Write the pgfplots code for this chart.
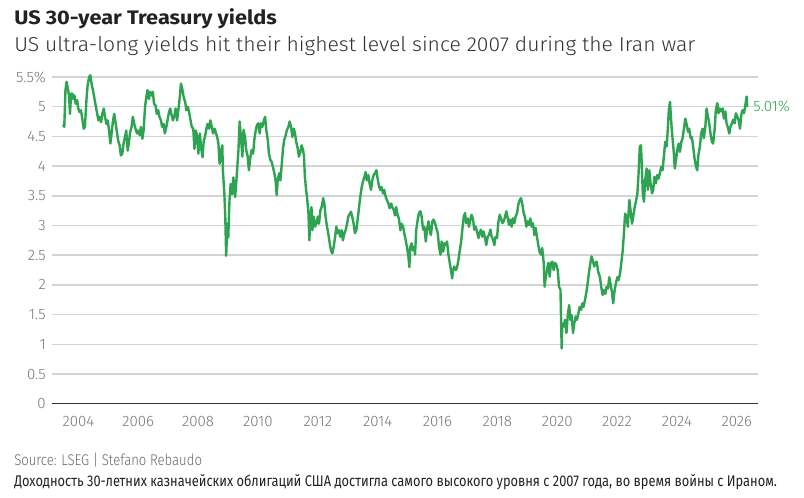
\documentclass[border=0pt]{standalone}
\usepackage{pgfplots}
\pgfplotsset{compat=1.18}
\usepackage{pgfplotstable}
\usepackage{graphicx}
\usepackage{fontspec}
\setmainfont{Fira Sans}
\IfFontExistsTF{Fira Sans Light}
  {\newfontfamily\lightfont{Fira Sans Light}}
  {\IfFontExistsTF{FiraSans-Light.otf}
    {\newfontfamily\lightfont{FiraSans-Light.otf}}
    {\newfontfamily\lightfont{Fira Sans}}}
\definecolor{linegreen}{RGB}{46,163,82}
\definecolor{gridgray}{RGB}{212,212,212}
\definecolor{tickgray}{RGB}{120,120,120}
\definecolor{titlec}{RGB}{34,34,34}
\definecolor{subc}{RGB}{50,50,50}
\definecolor{srcc}{RGB}{105,105,105}

\pgfplotstableread{
t y
2003.50 4.69
2003.53 4.66
2003.57 5.28
2003.61 5.42
2003.64 5.33
2003.69 5.19
2003.72 4.88
2003.76 5.22
2003.80 5.22
2003.83 5.13
2003.87 5.19
2003.91 5.05
2003.96 5.11
2004.00 4.97
2004.04 4.91
2004.09 4.94
2004.13 4.80
2004.18 4.63
2004.22 4.66
2004.27 5.11
2004.31 5.36
2004.36 5.50
2004.40 5.53
2004.45 5.36
2004.49 5.28
2004.53 5.16
2004.58 5.02
2004.62 4.91
2004.67 4.77
2004.71 4.83
2004.76 4.74
2004.80 4.88
2004.85 4.97
2004.89 4.83
2004.94 4.71
2004.98 4.77
2005.02 4.63
2005.07 4.38
2005.11 4.55
2005.16 4.77
2005.20 4.88
2005.25 4.71
2005.29 4.57
2005.33 4.43
2005.38 4.35
2005.42 4.18
2005.47 4.21
2005.51 4.38
2005.56 4.49
2005.60 4.60
2005.65 4.26
2005.69 4.40
2005.73 4.57
2005.78 4.66
2005.82 4.83
2005.87 4.71
2005.91 4.63
2005.96 4.55
2006.00 4.60
2006.05 4.52
2006.09 4.66
2006.14 4.46
2006.18 4.60
2006.23 5.00
2006.27 5.16
2006.31 5.28
2006.36 5.13
2006.40 5.25
2006.45 5.19
2006.49 5.25
2006.53 5.05
2006.58 5.02
2006.62 4.88
2006.67 4.94
2006.71 4.83
2006.76 4.77
2006.80 4.66
2006.85 4.71
2006.89 4.55
2006.94 4.66
2006.98 4.77
2007.03 4.91
2007.07 4.97
2007.12 4.85
2007.16 4.77
2007.21 4.85
2007.25 4.97
2007.30 4.77
2007.34 4.94
2007.39 5.16
2007.43 5.39
2007.48 5.28
2007.52 5.16
2007.57 5.08
2007.61 4.94
2007.66 5.00
2007.70 4.91
2007.75 4.77
2007.79 4.66
2007.84 4.63
2007.88 4.29
2007.93 4.60
2007.97 4.49
2008.01 4.21
2008.06 4.55
2008.10 4.32
2008.15 4.15
2008.19 4.43
2008.23 4.49
2008.28 4.63
2008.32 4.71
2008.37 4.63
2008.41 4.77
2008.46 4.66
2008.50 4.55
2008.55 4.63
2008.59 4.57
2008.64 4.49
2008.68 4.38
2008.72 4.04
2008.77 4.26
2008.81 4.35
2008.83 3.93
2008.88 3.53
2008.91 3.14
2008.94 2.49
2008.98 3.03
2009.01 2.80
2009.05 3.42
2009.09 3.70
2009.14 3.53
2009.18 3.81
2009.24 3.48
2009.29 3.82
2009.35 4.27
2009.39 4.75
2009.44 4.44
2009.48 4.16
2009.52 4.61
2009.57 4.49
2009.61 4.27
2009.66 4.16
2009.70 3.93
2009.75 4.16
2009.79 4.27
2009.84 4.21
2009.88 4.44
2009.93 4.61
2009.97 4.69
2010.01 4.72
2010.06 4.55
2010.10 4.72
2010.15 4.66
2010.19 4.75
2010.24 4.83
2010.28 4.61
2010.33 4.44
2010.37 4.21
2010.42 4.10
2010.46 4.07
2010.50 3.99
2010.55 3.88
2010.59 3.76
2010.63 3.51
2010.66 3.76
2010.71 3.88
2010.75 3.76
2010.79 3.99
2010.84 4.30
2010.88 4.44
2010.93 4.52
2010.97 4.61
2011.02 4.66
2011.06 4.75
2011.11 4.66
2011.15 4.49
2011.20 4.63
2011.24 4.55
2011.28 4.41
2011.33 4.30
2011.37 4.16
2011.42 4.24
2011.46 4.35
2011.51 4.27
2011.54 4.16
2011.57 3.82
2011.61 3.60
2011.64 3.48
2011.69 3.20
2011.72 2.75
2011.75 3.15
2011.79 3.31
2011.82 2.92
2011.86 3.15
2011.91 2.98
2011.95 3.03
2012.00 3.15
2012.04 3.03
2012.09 3.26
2012.13 3.31
2012.18 3.46
2012.22 3.37
2012.26 3.15
2012.31 2.98
2012.35 2.87
2012.40 2.70
2012.44 2.58
2012.49 2.53
2012.53 2.64
2012.58 2.81
2012.62 2.98
2012.66 2.87
2012.71 2.92
2012.75 2.81
2012.80 2.92
2012.84 2.75
2012.89 2.87
2012.93 2.92
2012.98 3.03
2013.02 3.15
2013.07 3.20
2013.11 3.23
2013.15 3.15
2013.20 3.03
2013.24 2.87
2013.29 2.92
2013.33 3.09
2013.38 3.31
2013.42 3.48
2013.47 3.65
2013.51 3.74
2013.56 3.82
2013.60 3.90
2013.64 3.76
2013.69 3.85
2013.73 3.71
2013.78 3.60
2013.82 3.76
2013.87 3.85
2013.91 3.88
2013.96 3.93
2014.00 3.79
2014.05 3.65
2014.09 3.60
2014.13 3.65
2014.18 3.54
2014.22 3.60
2014.27 3.48
2014.31 3.43
2014.36 3.37
2014.40 3.29
2014.45 3.37
2014.49 3.31
2014.54 3.26
2014.58 3.17
2014.62 3.31
2014.67 3.17
2014.71 3.12
2014.76 2.92
2014.80 3.03
2014.85 2.98
2014.89 2.87
2014.94 2.75
2014.98 2.64
2015.03 2.47
2015.06 2.30
2015.09 2.64
2015.14 2.70
2015.18 2.58
2015.23 2.64
2015.25 2.51
2015.29 2.93
2015.34 3.10
2015.38 3.21
2015.43 3.24
2015.47 3.15
2015.52 2.93
2015.56 2.98
2015.61 2.73
2015.65 2.93
2015.70 3.07
2015.74 2.93
2015.78 2.84
2015.83 3.07
2015.87 3.10
2015.92 3.04
2015.96 2.96
2016.01 2.87
2016.05 2.65
2016.10 2.51
2016.14 2.73
2016.19 2.56
2016.23 2.70
2016.27 2.67
2016.32 2.73
2016.36 2.53
2016.41 2.37
2016.45 2.25
2016.49 2.11
2016.52 2.25
2016.56 2.31
2016.61 2.25
2016.65 2.28
2016.70 2.42
2016.74 2.56
2016.79 2.73
2016.83 2.93
2016.88 3.15
2016.92 3.21
2016.96 3.04
2017.01 3.12
2017.05 2.98
2017.10 3.10
2017.14 3.18
2017.19 3.10
2017.23 2.93
2017.28 2.98
2017.32 2.90
2017.37 2.79
2017.41 2.87
2017.45 2.93
2017.50 2.81
2017.54 2.90
2017.59 2.79
2017.63 2.67
2017.68 2.81
2017.72 2.84
2017.77 2.93
2017.81 2.81
2017.86 2.76
2017.90 2.67
2017.94 2.81
2017.99 2.79
2018.03 3.04
2018.08 3.18
2018.12 3.12
2018.17 3.04
2018.21 3.07
2018.26 3.15
2018.30 3.24
2018.35 3.12
2018.39 3.01
2018.43 3.10
2018.48 2.98
2018.52 3.12
2018.57 3.04
2018.61 3.15
2018.66 3.21
2018.70 3.35
2018.75 3.43
2018.79 3.46
2018.84 3.35
2018.88 3.21
2018.92 3.15
2018.97 2.98
2019.01 3.07
2019.06 3.01
2019.10 3.12
2019.15 2.98
2019.19 3.04
2019.24 2.84
2019.28 2.96
2019.33 2.79
2019.37 2.67
2019.41 2.56
2019.46 2.51
2019.50 2.62
2019.55 2.37
2019.58 1.97
2019.62 2.14
2019.66 2.25
2019.70 2.37
2019.75 2.14
2019.79 2.37
2019.84 2.39
2019.88 2.25
2019.93 2.37
2019.97 2.34
2020.02 2.25
2020.06 1.97
2020.11 1.92
2020.13 1.41
2020.15 0.93
2020.17 1.35
2020.22 1.30
2020.26 1.41
2020.31 1.19
2020.35 1.47
2020.40 1.66
2020.44 1.41
2020.48 1.49
2020.53 1.19
2020.57 1.35
2020.62 1.47
2020.66 1.41
2020.71 1.52
2020.75 1.63
2020.80 1.58
2020.84 1.69
2020.88 1.63
2020.93 1.75
2020.97 1.86
2021.02 2.03
2021.06 2.20
2021.11 2.37
2021.15 2.48
2021.20 2.39
2021.24 2.31
2021.26 2.36
2021.32 2.39
2021.37 2.22
2021.43 2.13
2021.47 1.97
2021.52 1.83
2021.56 1.91
2021.61 1.85
2021.65 1.97
2021.70 1.94
2021.74 2.13
2021.78 2.02
2021.83 1.88
2021.87 1.69
2021.92 1.91
2021.96 2.02
2022.01 2.13
2022.05 2.08
2022.10 2.19
2022.14 2.36
2022.19 2.58
2022.23 2.87
2022.27 3.20
2022.32 3.15
2022.36 2.98
2022.41 3.43
2022.45 3.26
2022.50 3.03
2022.54 3.15
2022.59 3.31
2022.63 3.40
2022.68 3.54
2022.72 3.88
2022.76 4.33
2022.80 4.35
2022.83 3.99
2022.86 3.54
2022.90 3.40
2022.94 3.76
2022.99 3.96
2023.03 3.60
2023.08 3.93
2023.12 3.71
2023.17 3.54
2023.21 3.60
2023.25 3.82
2023.30 3.71
2023.34 3.85
2023.39 3.79
2023.43 3.88
2023.48 3.99
2023.52 3.93
2023.57 4.19
2023.61 4.41
2023.66 4.33
2023.70 4.66
2023.73 4.94
2023.77 5.08
2023.80 4.83
2023.83 4.61
2023.87 4.38
2023.90 4.21
2023.93 3.96
2023.97 4.10
2024.01 4.27
2024.06 4.38
2024.10 4.24
2024.15 4.41
2024.19 4.47
2024.23 4.61
2024.28 4.80
2024.32 4.72
2024.37 4.58
2024.41 4.63
2024.46 4.47
2024.50 4.49
2024.55 4.30
2024.59 4.13
2024.64 3.99
2024.68 3.93
2024.72 4.19
2024.77 4.33
2024.81 4.55
2024.86 4.63
2024.90 4.47
2024.95 4.66
2024.99 4.97
2025.04 4.83
2025.08 4.72
2025.13 4.52
2025.17 4.41
2025.21 4.38
2025.26 4.61
2025.30 4.94
2025.35 5.06
2025.39 4.89
2025.44 4.97
2025.48 4.92
2025.53 4.97
2025.57 4.80
2025.62 4.92
2025.66 4.72
2025.70 4.66
2025.75 4.55
2025.79 4.66
2025.84 4.72
2025.88 4.78
2025.93 4.72
2025.97 4.89
2026.02 4.83
2026.06 4.78
2026.11 4.63
2026.15 4.86
2026.19 4.94
2026.24 4.89
2026.28 5.00
2026.33 5.17
2026.35 5.01
}\yields

\begin{document}
\begin{tikzpicture}
\useasboundingbox (0pt,0pt) rectangle (603pt,373.5pt);
\fill[white] (0pt,0pt) rectangle (603pt,373.5pt);
\begin{axis}[
  at={(39pt,70.725pt)}, anchor=south west,
  scale only axis, width=529.5pt, height=245pt,
  xmin=2003.12, xmax=2026.71, ymin=0, ymax=5.5,
  clip=false,
  axis line style={draw=none},
  major tick length=0pt,
  tick style={draw=none},
  ymajorgrids,
  grid style={gridgray, line width=1.1pt},
  ytick={0.5,1,1.5,2,2.5,3,3.5,4,4.5,5,5.5},
  yticklabels={0.5,1,1.5,2,2.5,3,3.5,4,4.5,5,5.5\%},
  extra y ticks={0},
  extra y tick labels={0},
  extra y tick style={grid style={draw={rgb,255:red,51;green,51;blue,51}, line width=1.1pt}},
  xtick={2004,2006,2008,2010,2012,2014,2016,2018,2020,2022,2024,2026},
  xticklabels={2004,2006,2008,2010,2012,2014,2016,2018,2020,2022,2024,2026},
  yticklabel style={anchor=east, inner sep=0pt, xshift=-4.5pt, text=tickgray, font=\lightfont\fontsize{11.3}{12}\selectfont},
  xticklabel style={anchor=north, inner sep=0pt, yshift=-9pt, text=tickgray, font=\lightfont\fontsize{11.3}{12}\selectfont},
]
\addplot[linegreen, line width=1.8pt, line join=round, line cap=round] table[x=t,y=y]{\yields};
\node[anchor=west, inner sep=0pt, xshift=4.5pt, text=linegreen, font=\lightfont\fontsize{11.3}{12}\selectfont] at (axis cs:2026.35,5.01) {5.01\%};
\end{axis}
\node[anchor=base west, inner sep=0pt, text=titlec] at (10.5pt,355.3pt)
  {\resizebox{197pt}{11.9pt}{\fontsize{15.7}{18}\bfseries\selectfont US 30-year Treasury yields}};
\node[anchor=base west, inner sep=0pt, text=subc] at (10.5pt,334.7pt)
  {\resizebox{510.75pt}{11.4pt}{\lightfont\fontsize{15.7}{18}\selectfont US ultra-long yields hit their highest level since 2007 during the Iran war}};
\node[anchor=base west, inner sep=0pt, text=srcc] at (10.5pt,24.2pt)
  {\resizebox{140.8pt}{\height}{\lightfont\fontsize{11.6}{14}\selectfont Source: LSEG | Stefano Rebaudo}};
\node[anchor=base west, inner sep=0pt, text=titlec] at (10.5pt,8.5pt)
  {\resizebox{572pt}{\height}{\fontsize{11.6}{14}\selectfont Доходность 30-летних казначейских облигаций США достигла самого высокого уровня с 2007 года, во время войны с Ираном.}};
\end{tikzpicture}
\end{document}
